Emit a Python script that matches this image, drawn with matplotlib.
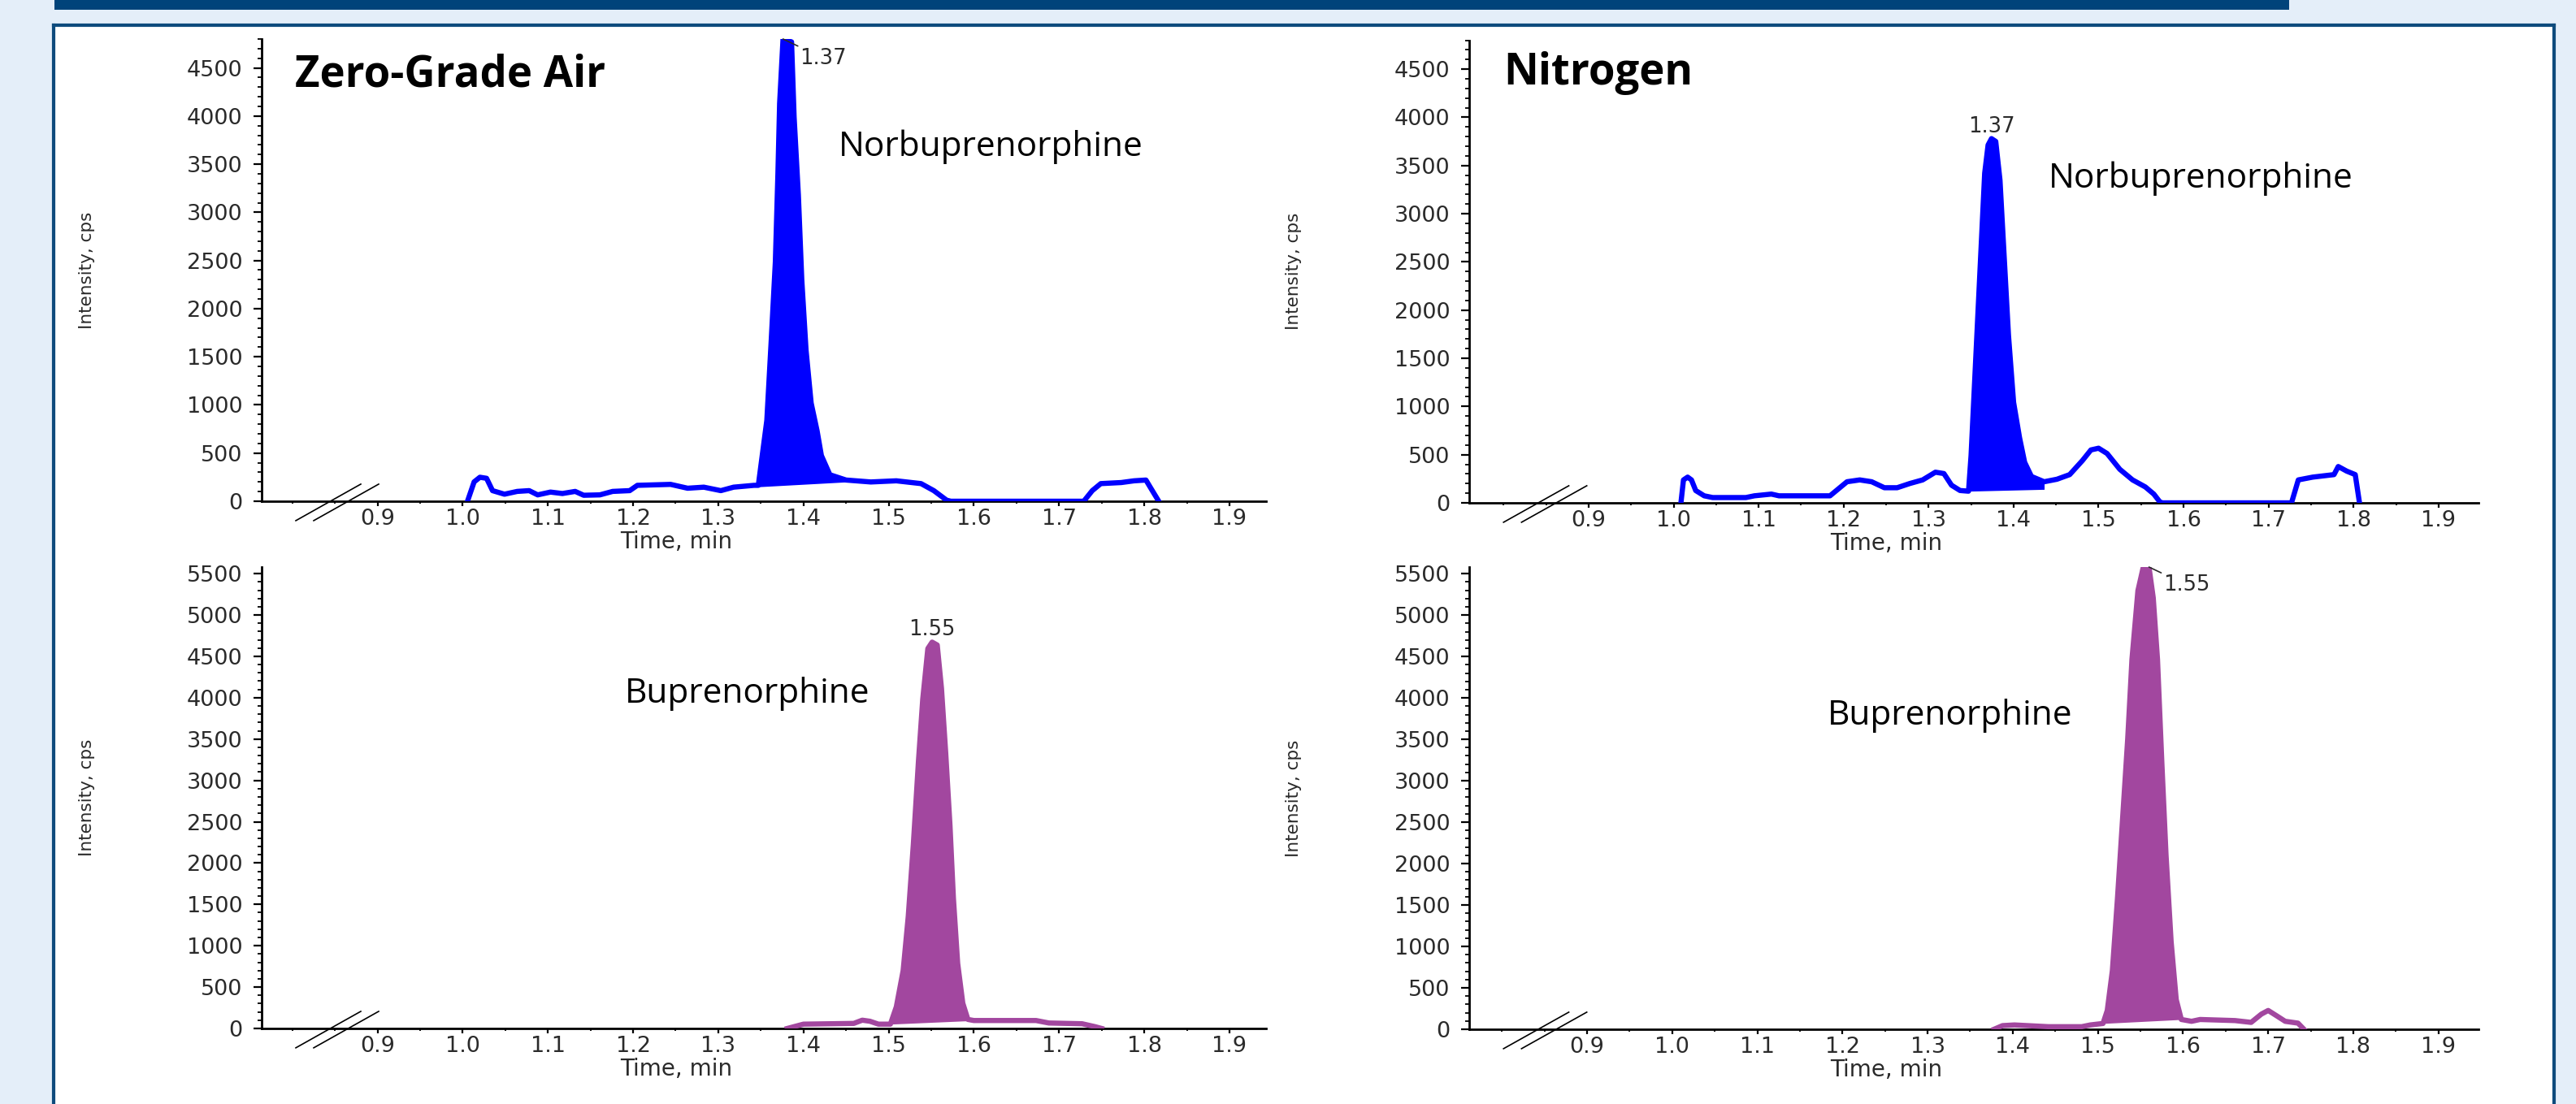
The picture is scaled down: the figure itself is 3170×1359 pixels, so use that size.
import numpy as np
import matplotlib
matplotlib.use("Agg")
import matplotlib.pyplot as plt
import matplotlib.ticker as ticker
from matplotlib.patches import Rectangle
from matplotlib.lines import Line2D

# ---- data (time in min, intensity in cps) ----
air_nor_t = [1.0056, 1.0134, 1.0202, 1.028, 1.035, 1.049, 1.064, 1.078, 1.088, 1.103,
             1.117, 1.132, 1.142, 1.161, 1.176, 1.196, 1.205, 1.244, 1.264, 1.283,
             1.303, 1.318, 1.342, 1.347, 1.357, 1.362, 1.367, 1.370, 1.372, 1.376,
             1.386, 1.389, 1.394, 1.398, 1.403, 1.409, 1.416, 1.421, 1.431, 1.450,
             1.479, 1.509, 1.538, 1.553, 1.568, 1.573, 1.729, 1.739, 1.749, 1.773,
             1.788, 1.802, 1.807, 1.817]
air_nor_v = [0, 201, 249, 238, 110, 73, 102, 110, 66, 95,
             80, 102, 62, 66, 102, 110, 165, 175, 135, 146,
             110, 146, 165, 165, 840, 1645, 2486, 3400, 4130, 4800,
             4770, 3990, 3180, 2300, 1570, 1020, 730, 475, 275, 220,
             200, 212, 183, 110, 11, 0, 0, 110, 183, 194,
             212, 220, 146, 0]

n2_nor_t = [1.0086, 1.0116, 1.0165, 1.021, 1.026, 1.036, 1.046, 1.085, 1.095, 1.115,
            1.124, 1.184, 1.194, 1.204, 1.219, 1.233, 1.248, 1.263, 1.278, 1.293,
            1.308, 1.318, 1.327, 1.337, 1.347, 1.350, 1.354, 1.358, 1.362, 1.366,
            1.370, 1.374, 1.379, 1.384, 1.389, 1.394, 1.400, 1.407, 1.413, 1.421,
            1.436, 1.451, 1.466, 1.481, 1.491, 1.500, 1.510, 1.525, 1.540, 1.555,
            1.565, 1.572, 1.575, 1.727, 1.735, 1.752, 1.777, 1.782, 1.792, 1.802,
            1.807]
n2_nor_v = [0, 238, 267, 238, 128, 73, 55, 55, 73, 91,
            73, 73, 146, 219, 238, 219, 157, 157, 201, 238,
            318, 304, 183, 128, 121, 494, 1225, 1957, 2689, 3420,
            3713, 3779, 3750, 3347, 2542, 1738, 1043, 677, 421, 274,
            219, 245, 293, 439, 549, 567, 512, 348, 238, 165,
            91, 11, 0, 0, 238, 267, 293, 377, 329, 293,
            0]

air_bup_t = [1.381, 1.400, 1.459, 1.469, 1.478, 1.488, 1.502, 1.509, 1.517, 1.523,
             1.529, 1.535, 1.540, 1.546, 1.551, 1.557, 1.562, 1.567, 1.572, 1.576,
             1.581, 1.587, 1.593, 1.600, 1.673, 1.688, 1.727, 1.742, 1.750]
air_bup_v = [0, 52, 61, 100, 87, 52, 52, 262, 700, 1356,
             2231, 3237, 3981, 4594, 4672, 4637, 4112, 3325, 2450, 1575,
             787, 306, 109, 96, 96, 66, 57, 22, 0]

n2_bup_t = [1.378, 1.388, 1.402, 1.442, 1.481, 1.491, 1.506, 1.511, 1.517, 1.523,
            1.529, 1.535, 1.540, 1.547, 1.553, 1.560, 1.565, 1.570, 1.575, 1.580,
            1.586, 1.592, 1.598, 1.610, 1.620, 1.661, 1.680, 1.692, 1.700, 1.710,
            1.720, 1.735, 1.742]
n2_bup_v = [0, 44, 52, 31, 31, 52, 70, 227, 708, 1582,
            2543, 3504, 4465, 5295, 5566, 5580, 5208, 4465, 3242, 2106,
            1057, 358, 118, 96, 118, 105, 83, 183, 227, 162,
            96, 74, 0]

# integrated peak windows (start, end) and their baseline intensities
air_nor_fill, air_nor_base = (1.347, 1.450), (150, 200)
n2_nor_fill, n2_nor_base = (1.347, 1.436), (121, 140)
air_bup_fill, air_bup_base = (1.502, 1.600), (52, 96)
n2_bup_fill, n2_bup_base = (1.506, 1.598), (70, 118)

peak_labels = ["1.37", "1.37", "1.55", "1.55"]
x_ticks = [0.9, 1.0, 1.1, 1.2, 1.3, 1.4, 1.5, 1.6, 1.7, 1.8, 1.9]

W, H = 3170, 1359
BLUE = "#0000ff"
PURPLE = "#a2479f"
TXT = "#2a2a2a"

plt.rcParams["font.family"] = ["DejaVu Sans"]

fig = plt.figure(figsize=(W / 100, H / 100), dpi=100)
fig.patch.set_facecolor("#e4eef9")


def fx(px):
    return px / W


def fy(py):
    return 1 - py / H


# slide decoration: banner and white panel with dark blue frame (behind the axes)
fig.add_artist(Rectangle((fx(67), fy(12)), fx(2817 - 67), 12 / H,
                         transform=fig.transFigure, color="#00437a", lw=0, zorder=-5))
fig.add_artist(Rectangle((fx(66), 0), fx(3143 - 66), 1 - 31 / H,
                         transform=fig.transFigure, color="white", lw=0, zorder=-5))
frame = dict(transform=fig.transFigure, color="#0e4b7d", lw=3, zorder=-4)
fig.add_artist(Line2D([fx(66), fx(3143)], [fy(31), fy(31)], **frame))
fig.add_artist(Line2D([fx(66), fx(66)], [fy(31), 0], **frame))
fig.add_artist(Line2D([fx(3143), fx(3143)], [fy(31), 0], **frame))


def make_axes(x0, y0, x1, y1, xlim, ytop, ymajor):
    ax = fig.add_axes([fx(x0), fy(y1), (x1 - x0) / W, (y1 - y0) / H])
    ax.patch.set_visible(False)
    ax.set_xlim(*xlim)
    ax.set_ylim(0, ytop)
    for s in ["top", "right"]:
        ax.spines[s].set_visible(False)
    for s in ["left", "bottom"]:
        ax.spines[s].set_linewidth(2.0)
    ax.xaxis.set_major_locator(ticker.FixedLocator(x_ticks))
    ax.xaxis.set_minor_locator(ticker.FixedLocator(
        [0.8] + [round(x + 0.05, 2) for x in [0.8] + x_ticks]))
    ax.xaxis.set_major_formatter(ticker.FormatStrFormatter("%.1f"))
    ax.yaxis.set_major_locator(ticker.MultipleLocator(ymajor))
    ax.yaxis.set_minor_locator(ticker.MultipleLocator(100))
    ax.tick_params(axis="y", which="major", length=7, width=1.6, pad=10,
                   labelsize=19.5, labelcolor=TXT)
    ax.tick_params(axis="y", which="minor", length=3.5, width=1.3)
    ax.tick_params(axis="x", which="major", length=4.5, width=1.6, pad=2,
                   labelsize=19.5, labelcolor=TXT)
    ax.tick_params(axis="x", which="minor", length=2.5, width=1.3)
    ax.set_ylabel("Intensity, cps", fontsize=15.5, color=TXT, va="center")
    ax.yaxis.set_label_coords(-0.174, 0.5)
    ax.set_xlabel("Time, min", fontsize=20, color=TXT, va="center")
    ax.xaxis.set_label_coords(0.413, -0.088)
    # axis break marks
    for dx in (0.0, 0.0178):
        ax.add_line(Line2D([0.034 + dx, 0.0987 + dx], [-0.042, 0.037],
                           transform=ax.transAxes, color="black", lw=1.2,
                           clip_on=False))
    return ax


def draw_trace(ax, t, v, color, fill_range, fill_base):
    t = np.asarray(t)
    v = np.asarray(v, dtype=float)
    m = (t >= fill_range[0]) & (t <= fill_range[1])
    base = np.interp(t[m], fill_range, fill_base)
    ax.fill_between(t[m], base, v[m], color=color, lw=0, zorder=2)
    ax.plot(t, v, color=color, lw=4.6, zorder=3)


ax_tl = make_axes(322, 48, 1558, 617, (0.764, 1.943), 4800, 500)
ax_tr = make_axes(1808, 49.5, 3050, 619, (0.7595, 1.947), 4800, 500)
ax_bl = make_axes(322, 698, 1558, 1266, (0.764, 1.943), 5580, 500)
ax_br = make_axes(1808, 698, 3050, 1267, (0.7616, 1.947), 5580, 500)

draw_trace(ax_tl, air_nor_t, air_nor_v, BLUE, air_nor_fill, air_nor_base)
draw_trace(ax_tr, n2_nor_t, n2_nor_v, BLUE, n2_nor_fill, n2_nor_base)
draw_trace(ax_bl, air_bup_t, air_bup_v, PURPLE, air_bup_fill, air_bup_base)
draw_trace(ax_br, n2_bup_t, n2_bup_v, PURPLE, n2_bup_fill, n2_bup_base)

# peak retention-time labels
leader = dict(arrowstyle="-", color=TXT, lw=1.2, shrinkA=0, shrinkB=0)
ax_tl.annotate(peak_labels[0], xy=(1.376, 4800), xytext=(1.396, 4600),
               fontsize=18.5, color=TXT, va="center", ha="left",
               arrowprops=leader, annotation_clip=False)
ax_tr.text(1.374, 3905, peak_labels[1], fontsize=18.5, color=TXT,
           ha="center", va="center")
ax_bl.text(1.551, 4822, peak_labels[2], fontsize=18.5, color=TXT,
           ha="center", va="center")
ax_br.annotate(peak_labels[3], xy=(1.560, 5580), xytext=(1.577, 5363),
               fontsize=18.5, color=TXT, va="center", ha="left",
               arrowprops=leader, annotation_clip=False)

# slide annotations
head = dict(family="Open Sans", fontweight="bold", fontsize=38, color="black",
            va="baseline", ha="left")
name = dict(family="Open Sans", fontsize=30.5, color="black",
            va="baseline", ha="left")
ax_tl.text(0.8035, 4308, "Zero-Grade Air", **head)
ax_tr.text(0.7996, 4344, "Nitrogen", **head)
ax_tl.text(1.4415, 3583, "Norbuprenorphine", **name)
ax_tr.text(1.441, 3273, "Norbuprenorphine", **name)
ax_bl.text(1.190, 3938, "Buprenorphine", **name)
ax_br.text(1.1824, 3674, "Buprenorphine", **name)

fig.savefig("out.png", dpi=100, facecolor=fig.get_facecolor())
